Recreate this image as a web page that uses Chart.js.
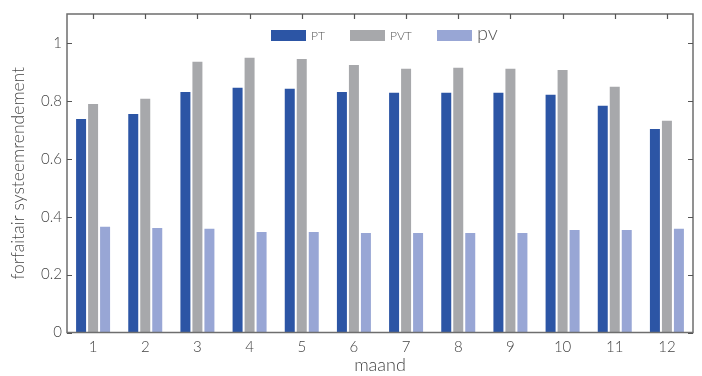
<!DOCTYPE html>
<html>
<head>
<meta charset="utf-8">
<script src="https://cdn.jsdelivr.net/npm/chart.js@4"></script>
<style>
html,body{margin:0;padding:0;background:#fff;}
#wrap{width:702px;height:376px;position:relative;}
</style>
</head>
<body>
<div id="wrap"><canvas id="c" width="702" height="376"></canvas></div>
<script>
const months = ['1','2','3','4','5','6','7','8','9','10','11','12'];
const seriesNames = ['PT','PVT','pv'];
const ptValues  = [0.737,0.755,0.831,0.845,0.842,0.831,0.828,0.828,0.828,0.821,0.783,0.703];
const pvtValues = [0.789,0.807,0.935,0.949,0.945,0.924,0.911,0.914,0.911,0.907,0.849,0.731];
const pvValues  = [0.365,0.361,0.358,0.347,0.347,0.344,0.344,0.344,0.344,0.354,0.354,0.358];
const yTickValues = [0,0.2,0.4,0.6,0.8,1];
const yTickLabels = ['0','0.2','0.4','0.6','0.8','1'];
const xTitle = 'maand';
const yTitle = 'forfaitair systeemrendement';

const colors = ['#2C55A5','#A7A8AB','#98A6D5'];
const FONT = 'Lato, "Open Sans", sans-serif';

const framePlugin = {
  id:'frame',
  afterDatasetsDraw(chart){
    const {ctx, chartArea:a, scales:{x,y}} = chart;
    ctx.save();
    ctx.strokeStyle = '#6e6e6e';
    ctx.lineWidth = 1.5;
    ctx.strokeRect(a.left, a.top, a.right-a.left, a.bottom-a.top);
    ctx.lineWidth = 1.2;
    ctx.strokeStyle = '#555';
    ctx.beginPath();
    yTickValues.forEach(v=>{
      const py = Math.round(y.getPixelForValue(v))+0.5;
      ctx.moveTo(a.left, py); ctx.lineTo(a.left+5, py);
      ctx.moveTo(a.right, py); ctx.lineTo(a.right-5, py);
    });
    months.forEach((m,i)=>{
      const px = Math.round(x.getPixelForValue(i))+0.5;
      ctx.moveTo(px, a.top); ctx.lineTo(px, a.top+5);
    });
    ctx.stroke();
    // legend
    const items = [
      {x:271, label:seriesNames[0], size:12},
      {x:350, label:seriesNames[1], size:12},
      {x:437, label:seriesNames[2], size:20}
    ];
    items.forEach((it,i)=>{
      ctx.fillStyle = colors[i];
      ctx.fillRect(it.x, 30, 35, 11);
      ctx.fillStyle = '#555';
      ctx.font = '300 '+it.size+'px '+FONT;
      ctx.textBaseline = 'middle';
      ctx.textAlign = 'left';
      ctx.fillText(it.label, it.x+40, it.size>14 ? 34 : 36);
    });
    ctx.restore();
  }
};

new Chart(document.getElementById('c'), {
  type:'bar',
  data:{
    labels: months,
    datasets:[
      {label:seriesNames[0], data:ptValues, backgroundColor:colors[0]},
      {label:seriesNames[1], data:pvtValues, backgroundColor:colors[1]},
      {label:seriesNames[2], data:pvValues, backgroundColor:colors[2]}
    ]
  },
  options:{
    responsive:false,
    animation:false,
    datasets:{bar:{categoryPercentage:0.69, barPercentage:0.833}},
    layout:{padding:{left:8,right:9,top:14,bottom:0}},
    plugins:{legend:{display:false}, tooltip:{enabled:false}},
    scales:{
      x:{
        grid:{display:false, drawTicks:false},
        border:{display:false},
        ticks:{color:'#444', font:{family:FONT, size:15, weight:'300'}, padding:6, maxRotation:0},
        title:{display:true, text:xTitle, color:'#444', font:{family:FONT, size:18, weight:'300'}, padding:{top:0,bottom:0}},
        afterFit(s){ s.height = 43.5; }
      },
      y:{
        min:0, max:1.1,
        grid:{display:false, drawTicks:false},
        border:{display:false},
        afterBuildTicks(s){ s.ticks = yTickValues.map(v=>({value:v})); },
        ticks:{color:'#444', font:{family:FONT, size:15, weight:'300'}, padding:5,
          callback:(v)=>{ const i = yTickValues.indexOf(v); return i>=0 ? yTickLabels[i] : ''; }},
        title:{display:true, text:yTitle, color:'#444', font:{family:FONT, size:17.5, weight:'300'}, padding:{top:0,bottom:2}},
        afterFit(s){ s.width = 59; }
      }
    }
  },
  plugins:[framePlugin]
});
</script>
</body>
</html>
